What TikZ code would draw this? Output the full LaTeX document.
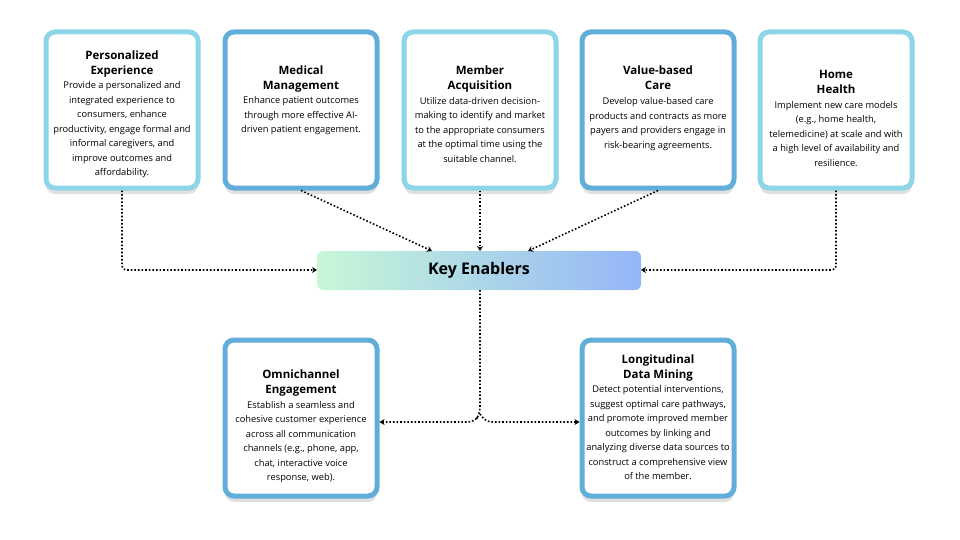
\documentclass[tikz,border=0pt]{standalone}
\usepackage{fontspec}
\setmainfont{Open Sans}
\usepackage{tikz}
\usetikzlibrary{calc, shadows, arrows.meta}

\definecolor{lightblue}{HTML}{8DD5E8}
\definecolor{darkblue}{HTML}{62AEDB}
\definecolor{mint}{HTML}{C6F8D8}
\definecolor{sky}{HTML}{94B6F8}

\tikzset{
	card/.style = {draw = #1, line width = 5pt, rounded corners = 9pt, fill = white,
		minimum width = 152pt, minimum height = 156pt,
		inner sep = 0pt, font = \fontsize{9.3}{14.5}\selectfont,
		drop shadow = {shadow xshift = 0pt, shadow yshift = -6pt, opacity = .12, fill = black}},
	link/.style = {line width = 1.6pt, dotted, -{Stealth[length = 5pt, width = 6pt]}},
}
% #1 raise, #2 title, #3 body
\newcommand{\cardtext}[3]{\raisebox{#1}[0pt][0pt]{\parbox[c]{150pt}{\centering
	{\fontsize{11.5}{15}\selectfont\bfseries #2\par}#3\par}}}

\begin{document}
\begin{tikzpicture}[x = 1pt, y = -1pt]
	\useasboundingbox (0,0) rectangle (960,540);

	% top row
	\node [card = lightblue] (pers) at (122,110) {\cardtext{-6.5pt}{Personalized\\Experience}{Provide a personalized and\\integrated experience to\\consumers, enhance\\productivity, engage formal and\\informal caregivers, and\\improve outcomes and\\affordability.}};
	\node [card = darkblue] (med) at (301,110) {\cardtext{7.5pt}{Medical\\Management}{Enhance patient outcomes\\through more effective AI-\\driven patient engagement.}};
	\node [card = lightblue] (memb) at (480,110) {\cardtext{-6.5pt}{Member\\Acquisition}{Utilize data-driven decision-\\making to identify and market\\to the appropriate consumers\\at the optimal time using the\\suitable channel.}};
	\node [card = darkblue] (value) at (658,110) {\cardtext{-0.5pt}{Value-based\\Care}{Develop value-based care\\products and contracts as more\\payers and providers engage in\\risk-bearing agreements.}};
	\node [card = lightblue] (home) at (836,110) {\cardtext{-10.5pt}{Home\\Health}{Implement new care models\\(e.g., home health,\\telemedicine) at scale and with\\a high level of availability and\\resilience.}};

	% centre
	\shade [left color = mint, right color = sky, rounded corners = 6pt] (317,251) rectangle (641,290);
	\node [font = \fontsize{16}{18}\selectfont\bfseries] (key) at (479,270.5) {Key Enablers};
	\coordinate (keyT) at (480,251);
	\coordinate (keyB) at (480,290);
	\coordinate (keyL) at (317,270);
	\coordinate (keyR) at (641,270);

	% bottom row
	\node [card = darkblue] (omni) at (301,418) {\cardtext{-10.5pt}{Omnichannel\\Engagement}{Establish a seamless and\\cohesive customer experience\\across all communication\\channels (e.g., phone, app,\\chat, interactive voice\\response, web).}};
	\node [card = darkblue] (long) at (658,418) {\cardtext{-1.5pt}{Longitudinal\\Data Mining}{Detect potential interventions,\\suggest optimal care pathways,\\and promote improved member\\outcomes by linking and\\analyzing diverse data sources to\\construct a comprehensive view\\of the member.}};

	% connectors
	\draw [link, rounded corners = 4pt] (pers.south) -- (pers.south |- keyL) -- (keyL);
	\draw [link, rounded corners = 4pt] (home.south) -- (home.south |- keyR) -- (keyR);
	\draw [link] (med.south) -- ($(keyT) + (-48,0)$);
	\draw [link] (memb.south) -- (keyT);
	\draw [link] (value.south) -- ($(keyT) + (48,0)$);
	\coordinate (split) at (480,414);
	\draw [link, rounded corners = 6pt] (keyB) -- (split) -- ($(split) + (-6,8)$) -- (omni.east |- 0,422);
	\draw [link, rounded corners = 6pt] (split) -- ($(split) + (6,8)$) -- (long.west |- 0,422);
\end{tikzpicture}
\end{document}
